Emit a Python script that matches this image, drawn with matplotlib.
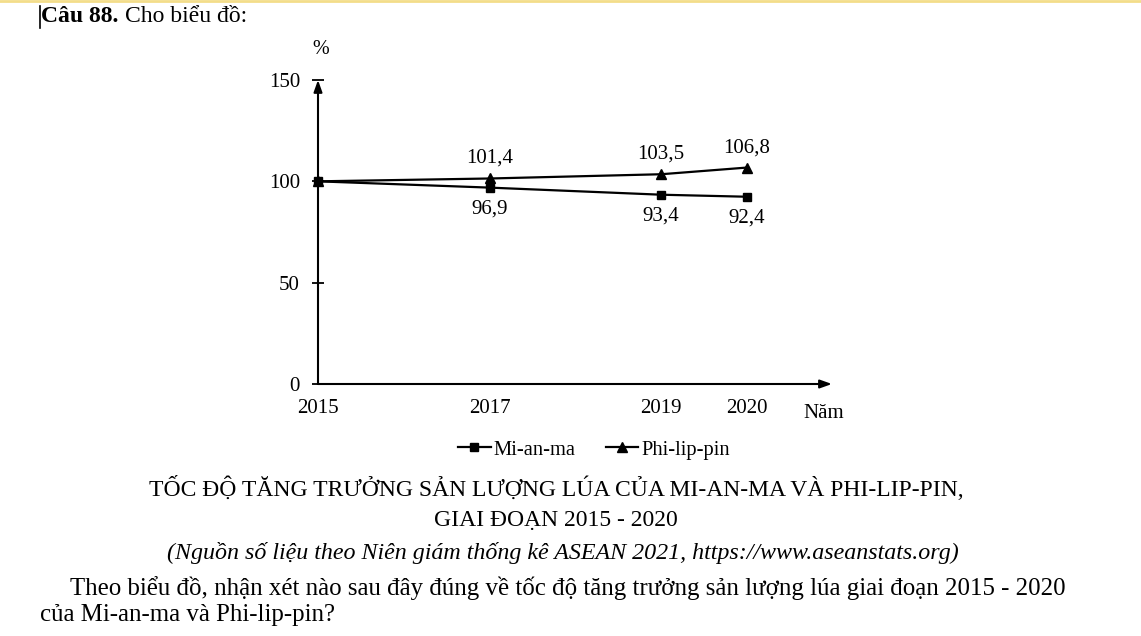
import matplotlib
matplotlib.use("Agg")
import matplotlib.pyplot as plt
from matplotlib.lines import Line2D

plt.rcParams['font.family'] = ['Liberation Serif', 'DejaVu Serif']

# data
years = [2015, 2017, 2019, 2020]
mianma = [100, 96.9, 93.4, 92.4]
philippin = [100, 101.4, 103.5, 106.8]
yticks = [0, 50, 100, 150]

W, H = 1141, 636
fig = plt.figure(figsize=(W / 100, H / 100), dpi=100)

# axes placed so that 2015..2020 and 0..150 sit where they are in the page
x0, x1 = 318, 747
y0, y1 = 384, 80
ax = fig.add_axes([x0 / W, (H - y0) / H, (x1 - x0) / W, (y0 - y1) / H])
ax.set_xlim(2015, 2020)
ax.set_ylim(0, 150)
for s in ax.spines.values():
    s.set_visible(False)

# axes with arrows
ax.annotate('', xy=(2015, 150), xytext=(2015, 0), annotation_clip=False,
            arrowprops=dict(arrowstyle='-|>,head_length=0.7,head_width=0.25',
                            lw=1.5, color='black', shrinkA=0, shrinkB=0))
ax.annotate('', xy=(2020.99, 0), xytext=(2015, 0), annotation_clip=False,
            arrowprops=dict(arrowstyle='-|>,head_length=0.7,head_width=0.25',
                            lw=1.5, color='black', shrinkA=0, shrinkB=0))

ax.set_yticks(yticks)
ax.set_yticklabels([str(v) for v in yticks])
ax.tick_params(axis='y', direction='inout', length=8, width=1.3, pad=9,
               labelsize=15)
ax.set_xticks(years)
ax.set_xticklabels([str(y) for y in years])
ax.tick_params(axis='x', length=0, pad=11, labelsize=15)

ax.plot(years, philippin, color='black', lw=1.6, marker='^', ms=7.5,
        clip_on=False, zorder=3)
ax.plot(years, mianma, color='black', lw=1.6, marker='s', ms=5.8,
        clip_on=False, zorder=4)

for x, v in zip(years[1:], philippin[1:]):
    ax.annotate(f"{v:.1f}".replace('.', ','), (x, v), xytext=(0, 20),
                textcoords='offset pixels', ha='center', va='center',
                fontsize=15)
for x, v in zip(years[1:], mianma[1:]):
    ax.annotate(f"{v:.1f}".replace('.', ','), (x, v), xytext=(0, -21),
                textcoords='offset pixels', ha='center', va='center',
                fontsize=15)

fig.text(321 / W, 1 - 50 / H, '%', ha='center', va='center', fontsize=14.5)
fig.text(824 / W, 1 - 413 / H, 'Năm', ha='center', va='center', fontsize=15)

handles = [Line2D([], [], color='black', lw=1.6, marker='s', ms=5.5),
           Line2D([], [], color='black', lw=1.6, marker='^', ms=7)]
fig.legend(handles, ['Mi-an-ma', 'Phi-lip-pin'], loc='center',
           bbox_to_anchor=(594 / W, 1 - 450 / H), ncol=2, frameon=False,
           fontsize=14.8, handlelength=1.6, handletextpad=0.15,
           columnspacing=1.45)

# page text
fig.text(41 / W, 1 - 17 / H, 'Câu 88.', fontsize=17, fontweight='bold',
         va='center', ha='left')
fig.text(125 / W, 1 - 17 / H, 'Cho biểu đồ:', fontsize=17, va='center',
         ha='left')
fig.add_artist(Line2D([40 / W, 40 / W], [1 - 6 / H, 1 - 28 / H],
                      color='black', lw=1.2))
fig.add_artist(Line2D([0, 1], [1 - 1 / H, 1 - 1 / H], color='#f3dd8a', lw=2))

fig.text(556 / W, 1 - 488 / H,
         'TỐC ĐỘ TĂNG TRƯỞNG SẢN LƯỢNG LÚA CỦA MI-AN-MA VÀ PHI-LIP-PIN,',
         fontsize=17, ha='center', va='center')
fig.text(556 / W, 1 - 520 / H, 'GIAI ĐOẠN 2015 - 2020', fontsize=17,
         ha='center', va='center')
fig.text(563 / W, 1 - 553 / H,
         '(Nguồn số liệu theo Niên giám thống kê ASEAN 2021, https://www.aseanstats.org)',
         fontsize=17.3, style='italic', ha='center', va='center')
fig.text(70 / W, 1 - 588 / H,
         'Theo biểu đồ, nhận xét nào sau đây đúng về tốc độ tăng trưởng sản lượng lúa giai đoạn 2015 - 2020',
         fontsize=17.9, ha='left', va='center')
fig.text(40 / W, 1 - 615 / H, 'của Mi-an-ma và Phi-lip-pin?', fontsize=17.9,
         ha='left', va='center')

fig.savefig('out.png', dpi=100)
